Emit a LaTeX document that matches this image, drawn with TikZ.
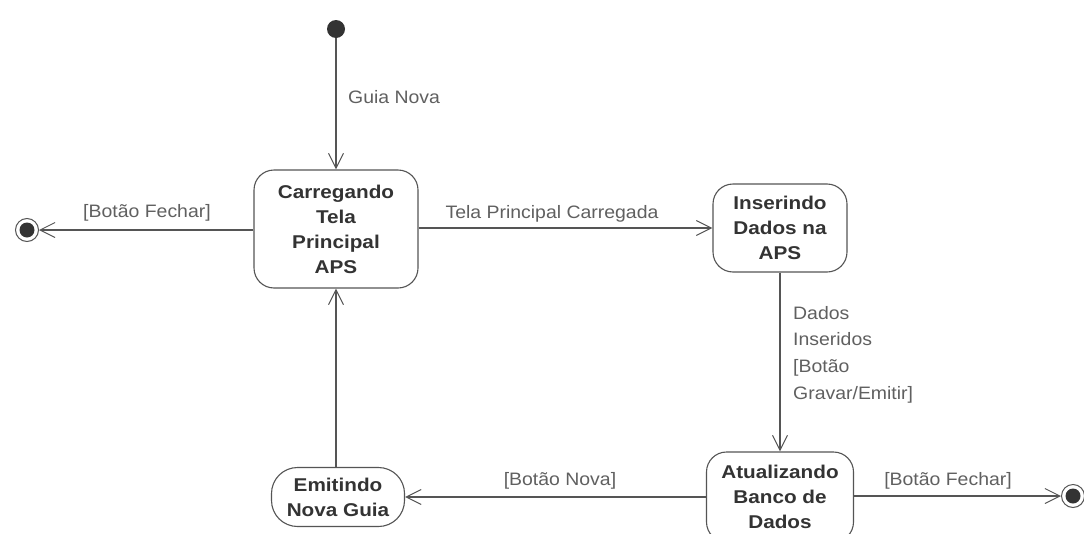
\documentclass[tikz,border=0pt]{standalone}
\usepackage{fontspec}
\setmainfont{Liberation Sans}
\newfontfamily\boxfont[FakeStretch=1.12]{Liberation Sans Bold}
\newfontfamily\lblfont[FakeStretch=1.08]{Liberation Sans}
\usetikzlibrary{arrows.meta}
\definecolor{ln}{HTML}{555555}
\definecolor{tx}{HTML}{606060}
\definecolor{bx}{HTML}{333333}
\tikzset{
  state/.style={draw=ln, line width=1.1pt, rounded corners=20pt, align=center,
    font=\boxfont\fontsize{18.5}{25}\selectfont, text=bx, inner sep=0pt},
  lbl/.style={font=\lblfont\fontsize{18}{26.7}\selectfont, text=tx, inner sep=0pt},
  tr/.style={draw=ln, line width=1.1pt, -{Straight Barb[length=15pt,width=15pt,line width=1pt]}},
  initst/.style={circle, fill=bx, minimum size=18pt, inner sep=0pt},
  finst/.style={circle, draw=ln, line width=1pt, fill=white, minimum size=23pt, inner sep=0pt},
  findot/.style={circle, fill=bx, minimum size=15pt, inner sep=0pt}
}
\begin{document}
\begin{tikzpicture}[x=1pt,y=-1pt]
\useasboundingbox[fill=white] (0,0) rectangle (1084,533);
\node[initst] (ini) at (336,29) {};
\node[state, minimum width=164pt, minimum height=118pt] (car) at (336,229) {Carregando\\Tela\\Principal\\APS};
\node[state, minimum width=134pt, minimum height=88pt] (ins) at (780,228) {Inserindo\\Dados na\\APS};
\node[state, minimum width=147pt, minimum height=90pt] (atu) at (780,497) {Atualizando\\Banco de\\Dados};
\node[state, rounded corners=26pt, minimum width=133pt, minimum height=59pt] (emi) at (338,497) {Emitindo\\Nova Guia};
\node[finst] (f1) at (27,230) {};
\node[findot] at (f1) {};
\node[finst] (f2) at (1073,496) {};
\node[findot] at (f2) {};

\draw[tr] (ini) -- (car);
\draw[tr] (car.west |- f1) -- (f1);
\draw[tr] (car.east |- ins.west) -- (ins.west);
\draw[tr] (ins) -- (atu);
\draw[tr] (atu.east |- f2) -- (f2);
\draw[tr] (atu.west) -- (emi.east);
\draw[tr] (emi.north -| car.south) -- (car.south);

\node[lbl, anchor=west] (l1) at (348,97) {Guia Nova};
\node[lbl] (l2) at (147,213) {[Botão Fechar]};
\node[lbl] (l3) at (552,214) {Tela Principal Carregada};
\node[lbl, anchor=north west, align=left] (l4) at (793,306) {Dados\\Inseridos\\{}[Botão\\Gravar/Emitir]};
\node[lbl] (l5) at (560,481) {[Botão Nova]};
\node[lbl] (l6) at (948,481) {[Botão Fechar]};
\end{tikzpicture}
\end{document}
